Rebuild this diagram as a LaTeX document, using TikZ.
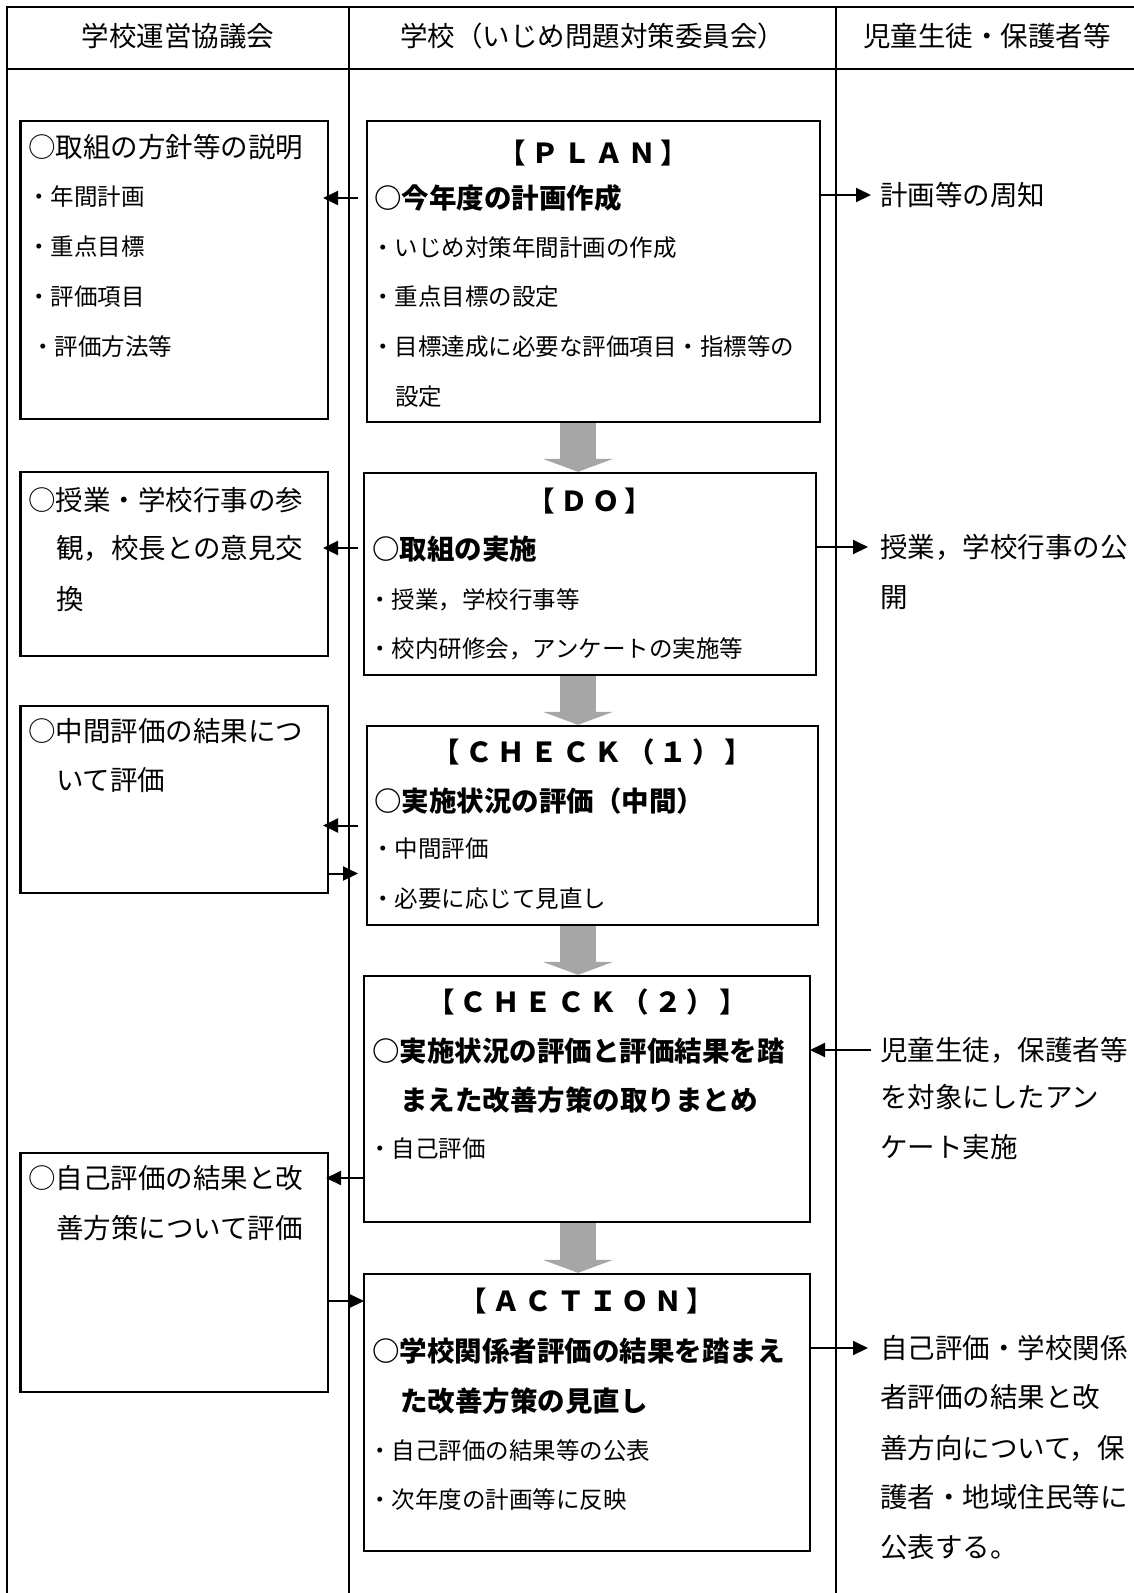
\documentclass[tikz,border=0pt]{standalone}
\usepackage{fontspec}
\setmainfont{Noto Sans CJK JP}
\usetikzlibrary{arrows.meta}

\tikzset{
  frame/.style={line width=2pt},
  box/.style={draw, line width=2.2pt, anchor=north west, inner sep=0pt, outer sep=0pt},
  big/.style={font=\fontsize{27.5}{30}\selectfont, anchor=west, inner sep=0pt, text height=24.2pt, text depth=3.3pt},
  small/.style={font=\fontsize{23.5}{26}\selectfont, anchor=west, inner sep=0pt, text height=20.7pt, text depth=2.8pt},
  bold/.style={big, font=\fontsize{27.5}{30}\selectfont\bfseries},
  head/.style={bold, font=\fontsize{27.5}{30}\selectfont\bfseries\addfontfeature{LetterSpace=18}, anchor=center},
  conn/.style={line width=2pt, -{Triangle[length=15pt,width=14pt]}},
  pdca/.style={line width=36pt, draw=black!35, shorten <=1.2pt, shorten >=1.2pt, -{Triangle[length=13pt,width=70pt]}}
}

\begin{document}
\begin{tikzpicture}[x=1pt,y=-1pt]
\useasboundingbox (0,0) rectangle (1134,1593);

\draw[frame] (7,1593) -- (7,6.5) -- (1134,6.5);
\draw[frame] (7,68.5) -- (1134,68.5);
\draw[frame] (349,6.5) -- (349,1593);
\draw[frame] (836,6.5) -- (836,1593);

\node[big, anchor=center] (h1) at (178,36) {学校運営協議会};
\node[big, anchor=center] (h2) at (592.5,36) {学校（いじめ問題対策委員会）};
\node[big, anchor=center] (h3) at (987,36) {児童生徒・保護者等};

\node[box, minimum width=307.5, minimum height=298] (pol) at (20.5,121) {};
\node[box, minimum width=307.5, minimum height=184] (vis) at (20.5,472) {};
\node[box, minimum width=307.5, minimum height=187] (mid) at (20.5,706) {};
\node[box, minimum width=307.5, minimum height=239] (self) at (20.5,1153) {};

\node[box, minimum width=453, minimum height=301] (plan) at (367,121) {};
\node[box, minimum width=452, minimum height=202] (do) at (364,473) {};
\node[box, minimum width=451, minimum height=199] (chk1) at (367,726) {};
\node[box, minimum width=446, minimum height=246] (chk2) at (364,976) {};
\node[box, minimum width=446, minimum height=277] (act) at (364,1274) {};

\node[big] (pol1) at (28,147) {○取組の方針等の説明};
\node[small] (pol2) at (27,197) {・年間計画};
\node[small] (pol3) at (27,247) {・重点目標};
\node[small] (pol4) at (27,297) {・評価項目};
\node[small] (pol5) at (31,347) {・評価方法等};

\node[big] (vis1) at (28,500) {○授業・学校行事の参};
\node[big] (vis2) at (56,548) {観，校長との意見交};
\node[big] (vis3) at (56,599) {換};

\node[big] (mid1) at (28,731) {○中間評価の結果につ};
\node[big] (mid2) at (56,780) {いて評価};

\node[big] (self1) at (28,1178) {○自己評価の結果と改};
\node[big] (self2) at (56,1228) {善方策について評価};

\node[head] (planh) at (593.5,153) {【ＰＬＡＮ】};
\node[bold] (plan1) at (374,198) {○今年度の計画作成};
\node[small] (plan2) at (371,248) {・いじめ対策年間計画の作成};
\node[small] (plan3) at (371,297) {・重点目標の設定};
\node[small] (plan4) at (371,347) {・目標達成に必要な評価項目・指標等の};
\node[small] (plan5) at (395,397) {設定};

\node[head] (doh) at (590,501) {【ＤＯ】};
\node[bold] (do1) at (372,549) {○取組の実施};
\node[small] (do2) at (368,600) {・授業，学校行事等};
\node[small] (do3) at (368,649) {・校内研修会，アンケートの実施等};

\node[head] (chk1h) at (592.5,752) {【ＣＨＥＣＫ（１）】};
\node[bold] (chk1a) at (374,801) {○実施状況の評価（中間）};
\node[small] (chk1b) at (371,849) {・中間評価};
\node[small] (chk1c) at (371,899) {・必要に応じて見直し};

\node[head] (chk2h) at (587,1002) {【ＣＨＥＣＫ（２）】};
\node[bold] (chk2a) at (372,1051) {○実施状況の評価と評価結果を踏};
\node[bold] (chk2b) at (400,1100) {まえた改善方策の取りまとめ};
\node[small] (chk2c) at (368,1149) {・自己評価};

\node[head] (acth) at (587,1301) {【ＡＣＴＩＯＮ】};
\node[bold] (act1) at (372,1351) {○学校関係者評価の結果を踏まえ};
\node[bold] (act2) at (400,1401) {た改善方策の見直し};
\node[small] (act3) at (368,1451) {・自己評価の結果等の公表};
\node[small] (act4) at (368,1500) {・次年度の計画等に反映};

\node[big] (rt1) at (880,195) {計画等の周知};
\node[big] (rd1) at (880,547) {授業，学校行事の公};
\node[big] (rd2) at (880,597) {開};
\node[big] (rc1) at (880,1050) {児童生徒，保護者等};
\node[big] (rc2) at (880,1097) {を対象にしたアン};
\node[big] (rc3) at (880,1147) {ケート実施};
\node[big] (ra1) at (880,1348) {自己評価・学校関係};
\node[big] (ra2) at (880,1397) {者評価の結果と改};
\node[big] (ra3) at (880,1448) {善方向について，保};
\node[big] (ra4) at (880,1497) {護者・地域住民等に};
\node[big] (ra5) at (880,1547) {公表する。};

\coordinate (gx) at (578,0);
\draw[pdca] (plan.south -| gx) -- (do.north -| gx);
\draw[pdca] (do.south -| gx) -- (chk1.north -| gx);
\draw[pdca] (chk1.south -| gx) -- (chk2.north -| gx);
\draw[pdca] (chk2.south -| gx) -- (act.north -| gx);

\draw[conn] ([xshift=-9pt]plan.west |- plan1) -- ([xshift=-5pt]pol.east |- plan1);
\draw[conn] (plan.east |- rt1) -- ([xshift=-9pt]rt1.west);
\draw[conn] ([xshift=-6pt]do.west |- vis2) -- ([xshift=-5pt]vis.east |- vis2);
\draw[conn] (do.east |- rd1) -- ([xshift=-12pt]rd1.west);
\draw[conn] ([xshift=-9pt]chk1.west) -- ([xshift=-5pt]mid.east |- chk1.west);
\draw[conn] ([yshift=-48pt]mid.east |- chk1.west) -- ([xshift=-9pt,yshift=-48pt]chk1.west);
\draw[conn] ([xshift=-9pt]rc1.west) -- (chk2.east |- rc1);
\draw[conn] (chk2.west |- self1) -- ([xshift=-2pt]self.east |- self1);
\draw[conn] (self.east |- acth) -- (act.west |- acth);
\draw[conn] (act.east |- ra1) -- ([xshift=-12pt]ra1.west);
\end{tikzpicture}
\end{document}
